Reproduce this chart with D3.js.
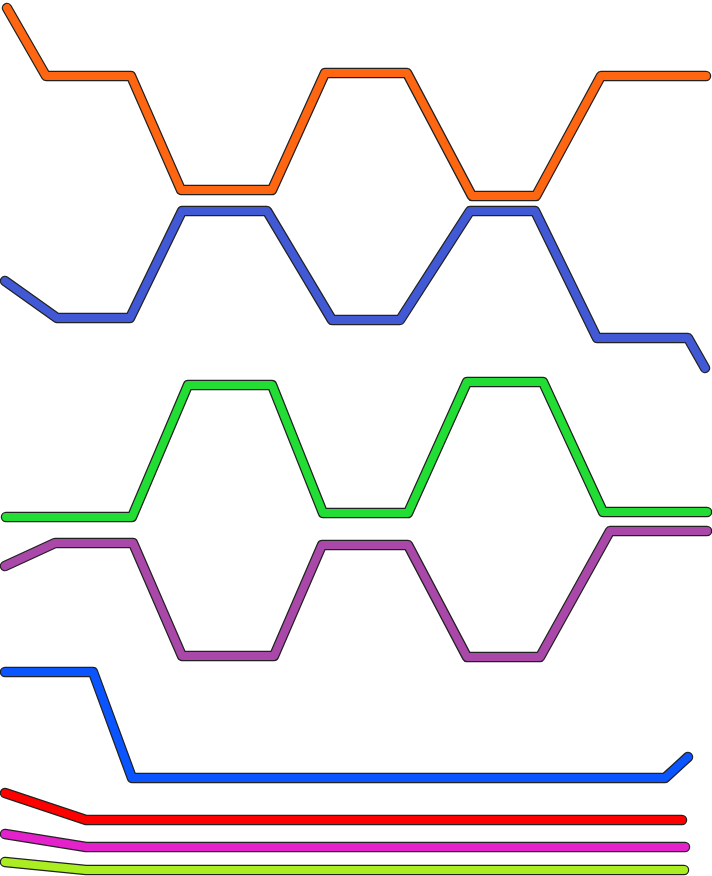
<!DOCTYPE html>
<html><head><meta charset="utf-8">
<script src="https://cdn.jsdelivr.net/npm/d3@7"></script>
<style>html,body{margin:0;padding:0;background:#fff;}svg{display:block;}</style>
</head><body>
<script>
// Series data (x position in units, y value in units)
const orangeX = [7, 46, 131, 181, 272, 325, 407, 472, 536, 601, 706];
const orangeY = [8, 76, 76, 190, 190, 73, 73, 196, 196, 76, 76];
const royalX = [5, 57, 130, 182, 267, 332, 400, 470, 535, 597, 688, 705];
const royalY = [281, 318, 318, 211, 211, 320, 320, 211, 211, 338, 338, 368];
const greenX = [6, 132, 188, 272, 323, 408, 467, 543, 603, 707];
const greenY = [517, 517, 385, 385, 513, 513, 382, 382, 512, 512];
const purpleX = [5, 55, 133, 182, 274, 322, 408, 467, 540, 610, 707];
const purpleY = [566, 543, 543, 656, 656, 545, 545, 657, 657, 531, 531];
const blueX = [5, 93, 132, 665, 688];
const blueY = [672, 672, 778, 778, 757];
const redX = [5, 86, 682];
const redY = [793, 820, 820];
const magentaX = [5, 86, 685];
const magentaY = [834, 847, 847];
const limeX = [5, 86, 684];
const limeY = [862, 870, 870];

const seriesNames = ["orange", "royal", "green", "purple", "blue", "red", "magenta", "lime"];
const seriesColors = ["#FF6611", "#4259D6", "#22DD33", "#AA48AA", "#0A55FF", "#FF0000", "#E422CC", "#AAEE22"];
const seriesX = [orangeX, royalX, greenX, purpleX, blueX, redX, magentaX, limeX];
const seriesY = [orangeY, royalY, greenY, purpleY, blueY, redY, magentaY, limeY];

const W = 712, H = 876;
const x = d3.scaleLinear().domain([0, 712]).range([0, W]);
const y = d3.scaleLinear().domain([0, 876]).range([0, H]);

const svg = d3.select("body").append("svg").attr("width", W).attr("height", H);

const line = d3.line().x(d => x(d[0])).y(d => y(d[1]));

const series = seriesNames.map((n, i) => ({
  name: n, color: seriesColors[i],
  pts: seriesX[i].map((v, j) => [v, seriesY[i][j]])
}));

const g = svg.selectAll("g.s").data(series).join("g").attr("class", "s");
g.append("path")
  .attr("d", d => line(d.pts))
  .attr("fill", "none")
  .attr("stroke", "#222")
  .attr("stroke-width", 10.5)
  .attr("stroke-linejoin", "round")
  .attr("stroke-linecap", "round");
g.append("path")
  .attr("d", d => line(d.pts))
  .attr("fill", "none")
  .attr("stroke", d => d.color)
  .attr("stroke-width", 8)
  .attr("stroke-linejoin", "round")
  .attr("stroke-linecap", "round");
</script>
</body></html>
